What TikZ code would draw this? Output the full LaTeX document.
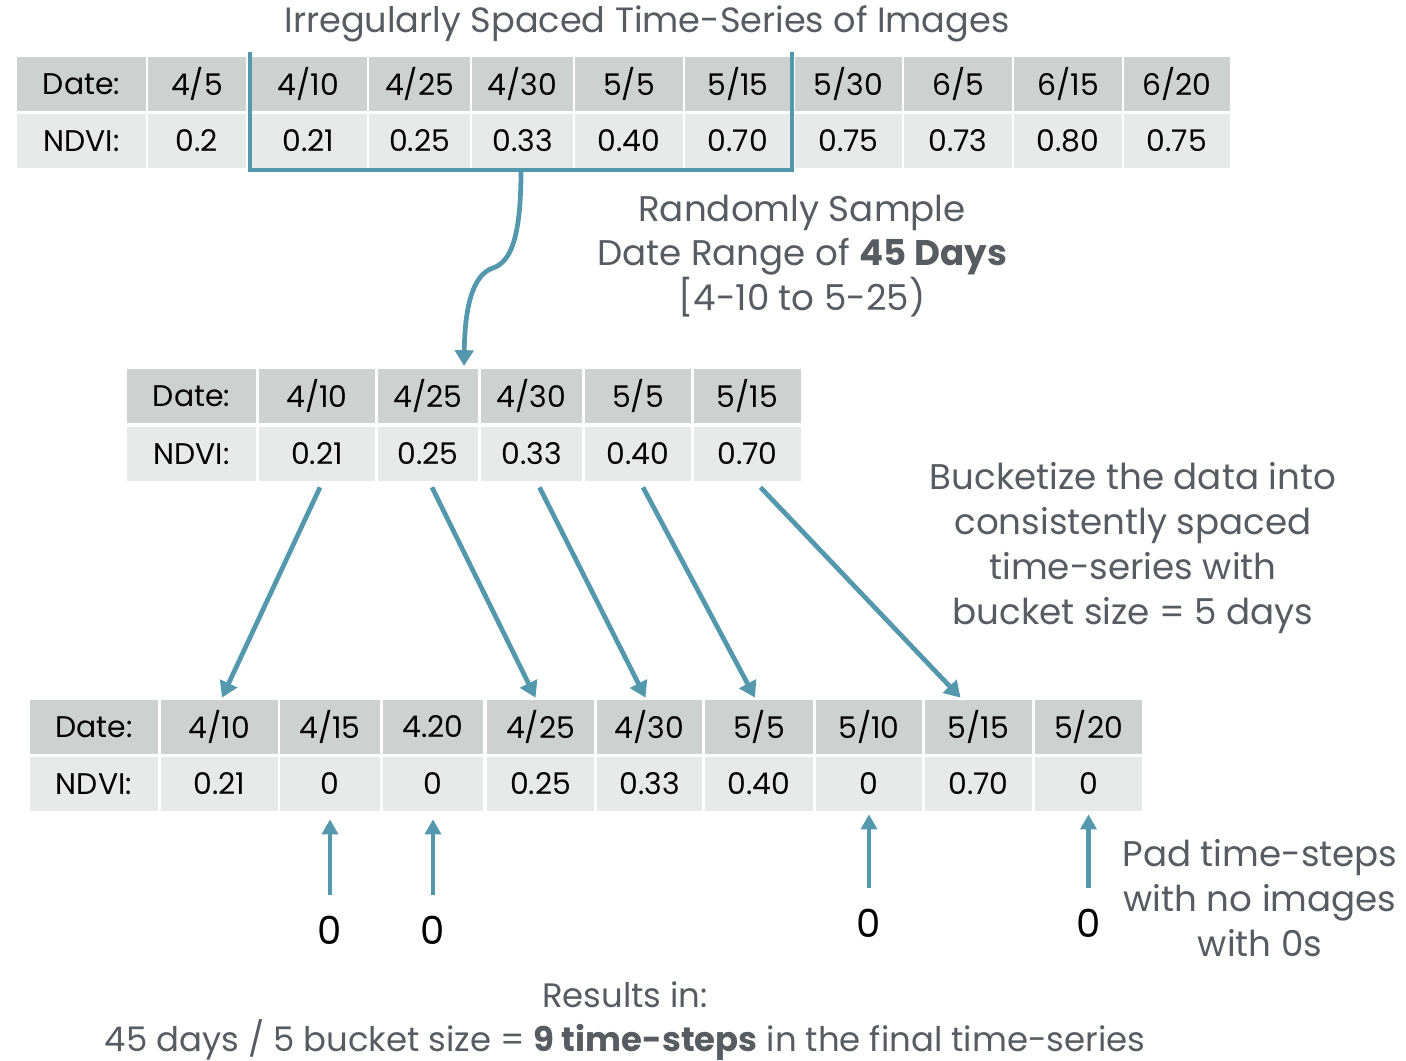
\documentclass[tikz,border=0pt]{standalone}
\usepackage{fontspec}
\setmainfont{Poppins}
\usetikzlibrary{arrows.meta}
\definecolor{hdrgray}{RGB}{205,209,208}
\definecolor{valgray}{RGB}{232,234,233}
\definecolor{linkblue}{RGB}{84,152,174}
\definecolor{txtgray}{RGB}{86,92,97}
\begin{document}
\begin{tikzpicture}[x=0.02cm,y=-0.02cm,
    hdr/.style={fill=hdrgray,inner sep=0pt,minimum height=1.08cm,font=\fontsize{17}{20}\selectfont},
    val/.style={fill=valgray,inner sep=0pt,minimum height=1.08cm,font=\fontsize{17}{20}\selectfont},
    arr/.style={draw=linkblue,line width=2.7pt,-{Triangle[width=10.5pt,length=9pt]}},
    uparr/.style={draw=linkblue,line width=2.3pt,-{Triangle[width=9pt,length=8.5pt]}},
    note/.style={text=txtgray,align=center,font=\fontsize{20.3}{25.5}\selectfont},
    zero/.style={font=\fontsize{22}{24}\selectfont}]
\useasboundingbox (0,0) rectangle (1406,1061);
\node[text=txtgray,font=\fontsize{20}{22}\selectfont] (title) at (647,24) {Irregularly Spaced Time-Series of Images};
\foreach \l/\r/\d/\v [count=\i] in {17/146/{Date:}/{NDVI:}, 148/246/{4/5}/0.2, 250/367/{4/10}/0.21,
    369/470/{4/25}/0.25, 472/573/{4/30}/0.33, 575/683/{5/5}/0.40, 685/791/{5/15}/0.70,
    795/902/{5/30}/0.75, 904/1012/{6/5}/0.73, 1014/1122/{6/15}/0.80, 1124/1230/{6/20}/0.75}{
  \node[hdr,minimum width={(\r-\l)*0.02cm}] (ad\i) at ({(\l+\r)/2},84) {\d};
  \node[val,minimum width={(\r-\l)*0.02cm}] (av\i) at ({(\l+\r)/2},141) {\v};
}
\draw[linkblue,line width=2.3pt] (250,52) -- (250,170) -- (792,170) -- (792,52);
\coordinate (brk) at (521,170);
\coordinate (tip) at (464,366);
\draw[arr] (brk) .. controls (521,240) and (510,262) .. (493,268) .. controls (475,274) and (465,300) .. (tip);
\node[note] (samp) at (802,256) {Randomly Sample\\Date Range of \textbf{45 Days}\\{[}4-10 to 5-25)};
\foreach \l/\r/\d/\v [count=\i] in {127/256/{Date:}/{NDVI:}, 259/375/{4/10}/0.21, 378/478/{4/25}/0.25,
    481/582/{4/30}/0.33, 585/691/{5/5}/0.40, 694/801/{5/15}/0.70}{
  \node[hdr,minimum width={(\r-\l)*0.02cm}] (bd\i) at ({(\l+\r)/2},396) {\d};
  \node[val,minimum width={(\r-\l)*0.02cm}] (bv\i) at ({(\l+\r)/2},454) {\v};
}
\foreach \l/\r/\d/\v [count=\i] in {30/158/{Date:}/{NDVI:}, 161/278/{4/10}/0.21, 280/380/{4/15}/0,
    383/483/{4.20}/0, 487/594/{4/25}/0.25, 597/702/{4/30}/0.33, 705/813/{5/5}/0.40,
    816/922/{5/10}/0, 925/1032/{5/15}/0.70, 1035/1142/{5/20}/0}{
  \node[hdr,minimum width={(\r-\l)*0.02cm}] (cd\i) at ({(\l+\r)/2},727) {\d};
  \node[val,minimum width={(\r-\l)*0.02cm}] (cv\i) at ({(\l+\r)/2},784) {\v};
}
\draw[arr] ([xshift=0.06cm,yshift=-0.12cm]bv2.south) -- ([xshift=0.05cm,yshift=0.04cm]cd2.north);
\draw[arr] ([xshift=0.08cm,yshift=-0.12cm]bv3.south) -- ([xshift=-0.1cm,yshift=0.04cm]cd5.north);
\draw[arr] ([xshift=0.16cm,yshift=-0.12cm]bv4.south) -- ([xshift=-0.08cm,yshift=0.04cm]cd6.north);
\draw[arr] ([xshift=0.1cm,yshift=-0.12cm]bv5.south) -- ([xshift=-0.08cm,yshift=0.04cm]cd7.north);
\draw[arr] ([xshift=0.26cm,yshift=-0.12cm]bv6.south) -- ([xshift=-0.36cm,yshift=0.04cm]cd9.north);
\node[note] (buck) at (1133,548) {Bucketize the data into\\consistently spaced\\time-series with\\bucket size = 5 days};
\node[zero] (z1) at (330,930) {0};
\node[zero] (z2) at (433,930) {0};
\node[zero] (z3) at (869,923) {0};
\node[zero] (z4) at (1088.5,923) {0};
\draw[uparr] ([yshift=0.3cm]z1.north) -- ([yshift=-0.16cm]cv3.south);
\draw[uparr] ([yshift=0.3cm]z2.north) -- ([yshift=-0.16cm]cv4.south);
\draw[uparr] ([yshift=0.3cm]z3.north) -- ([yshift=-0.06cm]cv8.south);
\draw[uparr] ([yshift=0.3cm]z4.north) -- ([yshift=-0.06cm]cv10.south);
\node[note] (pad) at (1260,898) {Pad time-steps\\with no images\\with 0s};
\node[note,font=\fontsize{19.3}{25.5}\selectfont] (res) at (625,1021) {Results in:\\45 days / 5 bucket size = \textbf{9 time-steps} in the final time-series};
\end{tikzpicture}
\end{document}
